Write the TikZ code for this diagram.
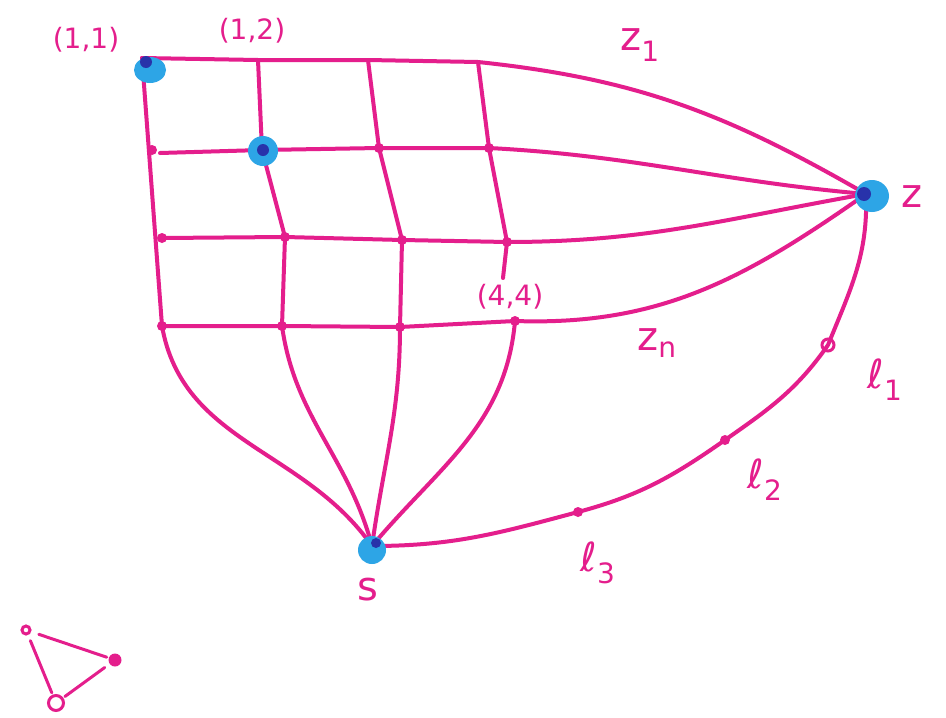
\documentclass[tikz,border=0pt]{standalone}
\usepackage{fontspec}
\setmainfont{DejaVu Sans}
\definecolor{pen}{RGB}{228,30,140}
\definecolor{blob}{RGB}{45,165,230}
\definecolor{blobcore}{RGB}{40,50,170}
\tikzset{
  ln/.style={draw=pen,line width=4pt,line cap=round,line join=round},
  pdot/.style={circle,fill=pen,inner sep=0pt,minimum size=10pt},
  odot/.style={circle,draw=pen,line width=3pt,inner sep=0pt,minimum size=12pt},
  cpt/.style={inner sep=0pt,minimum size=0pt},
  bl/.style={fill=blob},
  lab/.style={text=pen,font=\fontsize{28}{30}\selectfont,inner sep=0pt},
  biglab/.style={text=pen,font=\fontsize{40}{42}\selectfont,inner sep=0pt}
}
\begin{document}
\begin{tikzpicture}[x=1pt,y=-1pt]
\fill[white] (0,0) rectangle (946,718);
\useasboundingbox (0,0) rectangle (946,718);
% grid nodes
\node[cpt] (v11) at (142,58) {};
\node[cpt] (v12) at (258,60) {};
\node[cpt] (v13) at (368,60) {};
\node[cpt] (v14) at (478,62) {};
\node[pdot] (v21) at (152,150) {};
\node[cpt] (r21) at (160,153) {};
\node[cpt] (v22) at (262,150) {};
\node[pdot] (v23) at (379,148) {};
\node[pdot] (v24) at (489,148) {};
\node[pdot] (v31) at (162,238) {};
\node[pdot] (v32) at (285,237) {};
\node[pdot] (v33) at (402,240) {};
\node[pdot] (v34) at (507,242) {};
\node[pdot] (v41) at (162,326) {};
\node[pdot] (v42) at (282,326) {};
\node[pdot] (v43) at (400,327) {};
\node[pdot] (v44) at (515,321) {};
\node[cpt] (c4) at (503,278) {};
\node[cpt] (z) at (866,194) {};
\node[cpt] (s) at (372,546) {};
\node[odot] (l1) at (828,345) {};
\node[pdot] (l2) at (725,440) {};
\node[pdot] (l3) at (578,512) {};
% rows
\draw[ln] (v11.center) -- (v12.center) -- (v13.center) -- (v14.center)
  to[out=-6,in=150] (z.center);
\draw[ln] (r21.center) -- (v22.center) -- (v23.center) -- (v24.center)
  to[out=-3,in=175] (z.center);
\draw[ln] (v31.center) -- (v32.center) -- (v33.center) -- (v34.center)
  to[out=0,in=190] (z.center);
\draw[ln] (v41.center) -- (v42.center) -- (v43.center) -- (v44.center)
  to[out=-2,in=215] (z.center);
% columns
\draw[ln] (v11.center) -- (v41.center) to[out=-80,in=125] (s.center);
\draw[ln] (v12.center) -- (v22.center) -- (v32.center) -- (v42.center) to[out=-82,in=105] (s.center);
\draw[ln] (v13.center) -- (v23.center) -- (v33.center) -- (v43.center) to[out=-90,in=82] (s.center);
\draw[ln] (v14.center) -- (v24.center) -- (v34.center) -- (c4.center);
\draw[ln] (v44.center) to[out=-95,in=50] (s.center);
% s to z
\draw[ln] (s.center) to[out=0,in=195] (l3.center) to[out=15,in=215] (l2.center)
  to[out=35,in=235] (l1.center) to[out=68,in=-88] (z.center);
% blobs
\fill[bl] (150,70) ellipse (16pt and 13pt);
\fill[blobcore] (146,62) circle (6pt);
\fill[bl] (263,151) circle (15pt);
\fill[blobcore] (263,150) circle (6pt);
\fill[bl] (872,196) ellipse (17pt and 16pt);
\fill[blobcore] (864,194) circle (7pt);
\fill[bl] (372,550) circle (14pt);
\fill[blobcore] (376,543) circle (5pt);
% labels
\node[lab] (t11) at (86,40) {(1,1)};
\node[lab] (t12) at (252,31) {(1,2)};
\node[lab] (t44) at (510,297) {(4,4)};
\node[biglab] (tz1) at (640,45) {z\textsubscript{1}};
\node[biglab] (tzn) at (657,343) {z\textsubscript{n}};
\node[biglab] (tz) at (912,197) {z};
\node[biglab] (ts) at (368,590) {s};
\node[biglab] (tl1) at (885,380) {ℓ\textsubscript{1}};
\node[biglab] (tl2) at (765,480) {ℓ\textsubscript{2}};
\node[biglab] (tl3) at (598,563) {ℓ\textsubscript{3}};
% small triangle
\node[circle,draw=pen,line width=3pt,inner sep=0pt,minimum size=8pt] (ta) at (26,630) {};
\node[pdot,minimum size=13pt] (tb) at (115,660) {};
\node[odot,minimum size=15pt] (tc) at (56,703) {};
\draw[ln,line width=3pt,shorten <=6pt,shorten >=2pt] (ta) -- (tc);
\draw[ln,line width=3pt,shorten <=8pt,shorten >=2pt] (ta) -- (tb);
\draw[ln,line width=3pt,shorten <=6pt,shorten >=2pt] (tb) -- (tc);
\end{tikzpicture}
\end{document}
